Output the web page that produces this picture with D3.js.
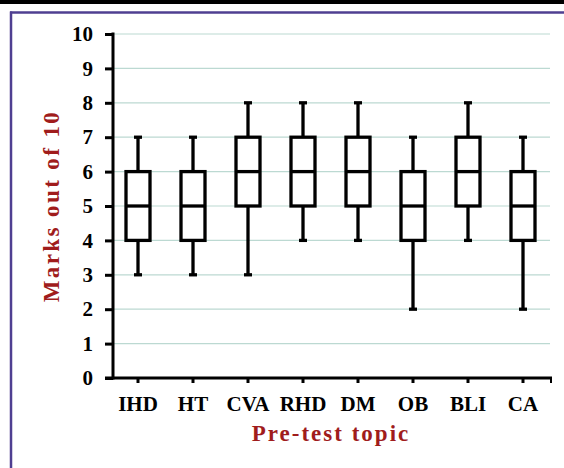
<!DOCTYPE html>
<html><head><meta charset="utf-8">
<script src="https://cdn.jsdelivr.net/npm/d3@7"></script>
<style>
html,body{margin:0;padding:0;background:#fff;}
svg{display:block;}
</style></head>
<body>
<svg id="chart" width="564" height="468"></svg>
<script>
const categories = ["IHD","HT","CVA","RHD","DM","OB","BLI","CA"];
const whiskerLow  = [3,3,3,4,4,2,4,2];
const q1          = [4,4,5,5,5,4,5,4];
const median      = [5,5,6,6,6,5,6,5];
const q3          = [6,6,7,7,7,6,7,6];
const whiskerHigh = [7,7,8,8,8,7,8,7];
const yTicks = [0,1,2,3,4,5,6,7,8,9,10];
const yTitle = "Marks out of 10";
const xTitle = "Pre-test topic";

const svg = d3.select("#chart");
const font = "'Liberation Serif','Times New Roman',serif";

// frame
svg.append("rect").attr("x",0).attr("y",0).attr("width",564).attr("height",4).attr("fill","#000");
svg.append("line").attr("x1",10).attr("x2",564).attr("y1",12.5).attr("y2",12.5).attr("stroke","#4f3f91").attr("stroke-width",2.5);
svg.append("line").attr("x1",11).attr("x2",11).attr("y1",11.5).attr("y2",468).attr("stroke","#4f3f91").attr("stroke-width",2.5);

const y = d3.scaleLinear().domain([0,10]).range([378,34]);
const x = d3.scaleBand().domain(categories).range([110.5,550.5]);
const axisX0 = 113, axisX1 = 552;

// gridlines
svg.append("g").selectAll("line").data(yTicks.filter(d=>d>0)).join("line")
  .attr("x1",axisX0).attr("x2",550).attr("y1",d=>y(d)).attr("y2",d=>y(d))
  .attr("stroke","#bcd9d2").attr("stroke-width",1.2);

// y axis
const gy = svg.append("g").attr("transform",`translate(${axisX0},0)`)
  .call(d3.axisLeft(y).tickValues(yTicks).tickSize(8).tickPadding(12).tickFormat(d3.format("d")));
gy.select(".domain").remove();
gy.selectAll(".tick line").attr("stroke","#000").attr("stroke-width",3);
gy.selectAll("text").attr("font-family",font).attr("font-weight","bold").attr("font-size",21).attr("fill","#000");
svg.append("line").attr("x1",axisX0).attr("x2",axisX0).attr("y1",y(10)-1.5).attr("y2",y(0)+1.5)
  .attr("stroke","#000").attr("stroke-width",3);

// x axis
const gx = svg.append("g").attr("transform",`translate(0,${y(0)})`)
  .call(d3.axisBottom(x).tickSize(5).tickPadding(13));
gx.select(".domain").remove();
gx.selectAll(".tick line").attr("stroke","#000").attr("stroke-width",3);
gx.selectAll("text").attr("font-family",font).attr("font-weight","bold").attr("font-size",21).attr("fill","#000");
svg.append("line").attr("x1",axisX0-8).attr("x2",axisX1).attr("y1",y(0)).attr("y2",y(0))
  .attr("stroke","#000").attr("stroke-width",3);
svg.append("line").attr("x1",axisX1-1).attr("x2",axisX1-1).attr("y1",y(0)).attr("y2",y(0)+5)
  .attr("stroke","#000").attr("stroke-width",2);

// boxes
const data = categories.map((c,i)=>({c,lo:whiskerLow[i],q1:q1[i],med:median[i],q3:q3[i],hi:whiskerHigh[i]}));
const boxW = 24, capW = 8;
const g = svg.append("g").attr("stroke","#000").attr("stroke-width",3.3).attr("fill","none");
data.forEach(d=>{
  const cx = x(d.c) + x.bandwidth()/2;
  g.append("line").attr("x1",cx).attr("x2",cx).attr("y1",y(d.hi)).attr("y2",y(d.q3));
  g.append("line").attr("x1",cx).attr("x2",cx).attr("y1",y(d.q1)).attr("y2",y(d.lo));
  g.append("line").attr("x1",cx-capW/2).attr("x2",cx+capW/2).attr("y1",y(d.hi)).attr("y2",y(d.hi));
  g.append("line").attr("x1",cx-capW/2).attr("x2",cx+capW/2).attr("y1",y(d.lo)).attr("y2",y(d.lo));
  g.append("rect").attr("x",cx-boxW/2).attr("y",y(d.q3)).attr("width",boxW).attr("height",y(d.q1)-y(d.q3)).attr("fill","#fff");
  g.append("line").attr("x1",cx-boxW/2).attr("x2",cx+boxW/2).attr("y1",y(d.med)).attr("y2",y(d.med));
});

// titles
svg.append("text").attr("transform","translate(59,206) rotate(-90)")
  .attr("text-anchor","middle").attr("font-family",font).attr("font-weight","bold")
  .attr("font-size",23).attr("letter-spacing","2.4px").attr("fill","#a01c1c").text(yTitle);
svg.append("text").attr("x",331).attr("y",441)
  .attr("text-anchor","middle").attr("font-family",font).attr("font-weight","bold")
  .attr("font-size",23).attr("letter-spacing","2px").attr("fill","#a01c1c").text(xTitle);
</script>
</body></html>
